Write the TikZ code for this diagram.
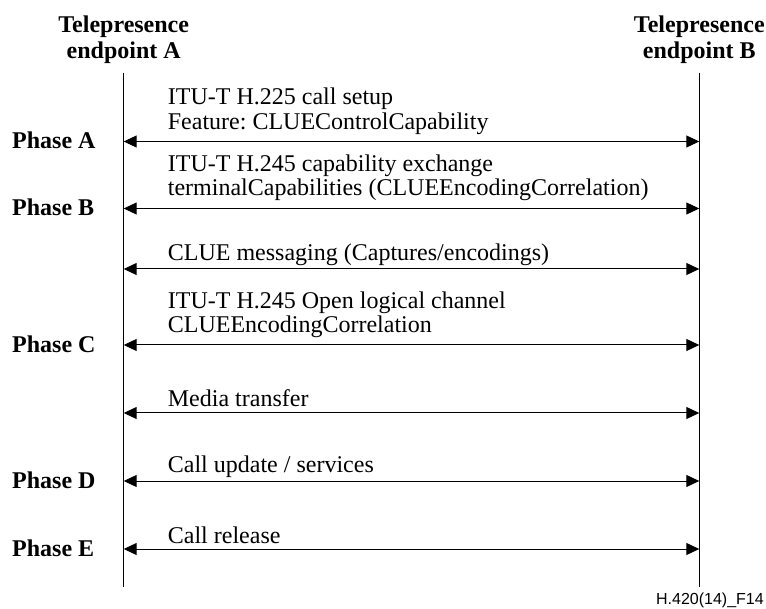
\documentclass[tikz,border=0pt]{standalone}
\usepackage{fontspec}
\setmainfont{Liberation Serif}
\newfontfamily\tagfont{Liberation Sans}
\usetikzlibrary{arrows.meta}
\frenchspacing

\tikzset{
  msg/.style={font=\fontsize{24}{25}\selectfont, anchor=base west, inner sep=0pt},
  head/.style={font=\fontsize{24}{25}\selectfont\bfseries, anchor=base, inner sep=0pt},
  phase/.style={font=\fontsize{24}{25}\selectfont\bfseries, anchor=base west, inner sep=0pt},
  lifeline/.style={line width=1.4pt},
  exchange/.style={line width=1pt, {Triangle[length=13pt,width=12pt]}-{Triangle[length=13pt,width=12pt]}},
}

\begin{document}
\begin{tikzpicture}[x=1pt, y=-1pt]
  \useasboundingbox (0,0) rectangle (766,609);

  % endpoint headings
  \node[head] (hA1) at (123.7,33) {Telepresence};
  \node[head] (hA2) at (123.7,59) {endpoint A};
  \node[head] (hB1) at (699.3,33) {Telepresence};
  \node[head] (hB2) at (699.3,59) {endpoint B};

  % lifelines
  \coordinate (Atop) at (123.7,72.7);
  \coordinate (Abot) at (123.7,586.7);
  \coordinate (Btop) at (699.3,72.7);
  \coordinate (Bbot) at (699.3,586.7);
  \draw[lifeline] (Atop) -- (Abot);
  \draw[lifeline] (Btop) -- (Bbot);

  % message exchanges between the endpoints
  \foreach \n/\y in {1/141.5, 2/208.5, 3/269, 4/345, 5/413, 6/481, 7/549}{
    \coordinate (a\n) at (123.7,\y);
    \coordinate (b\n) at (699.3,\y);
    \draw[exchange] (a\n) -- (b\n);
  }

  % message labels
  \node[msg] (m1a) at (167.7,105)   {ITU-T H.225 call setup};
  \node[msg] (m1b) at (167.7,129.5) {Feature: CLUEControlCapability};
  \node[msg] (m2a) at (167.7,172)   {ITU-T H.245 capability exchange};
  \node[msg] (m2b) at (167.7,195.5) {terminalCapabilities (CLUEEncodingCorrelation)};
  \node[msg] (m3)  at (167.7,260.5) {CLUE messaging (Captures/encodings)};
  \node[msg] (m4a) at (167.7,308.5) {ITU-T H.245 Open logical channel};
  \node[msg] (m4b) at (167.7,333)   {CLUEEncodingCorrelation};
  \node[msg] (m5)  at (167.7,406.5) {Media transfer};
  \node[msg] (m6)  at (167.7,472.5) {Call update / services};
  \node[msg] (m7)  at (167.7,543.5) {Call release};

  % phase labels
  \node[phase] (pA) at (12,149)   {Phase A};
  \node[phase] (pB) at (12,216)   {Phase B};
  \node[phase] (pC) at (12,352.5) {Phase C};
  \node[phase] (pD) at (12,488.5) {Phase D};
  \node[phase] (pE) at (12,556.5) {Phase E};

  % figure tag
  \node[font=\fontsize{16}{17}\tagfont, anchor=base east, inner sep=0pt] (tag) at (764,604) {H.420(14)\_F14};
\end{tikzpicture}
\end{document}
